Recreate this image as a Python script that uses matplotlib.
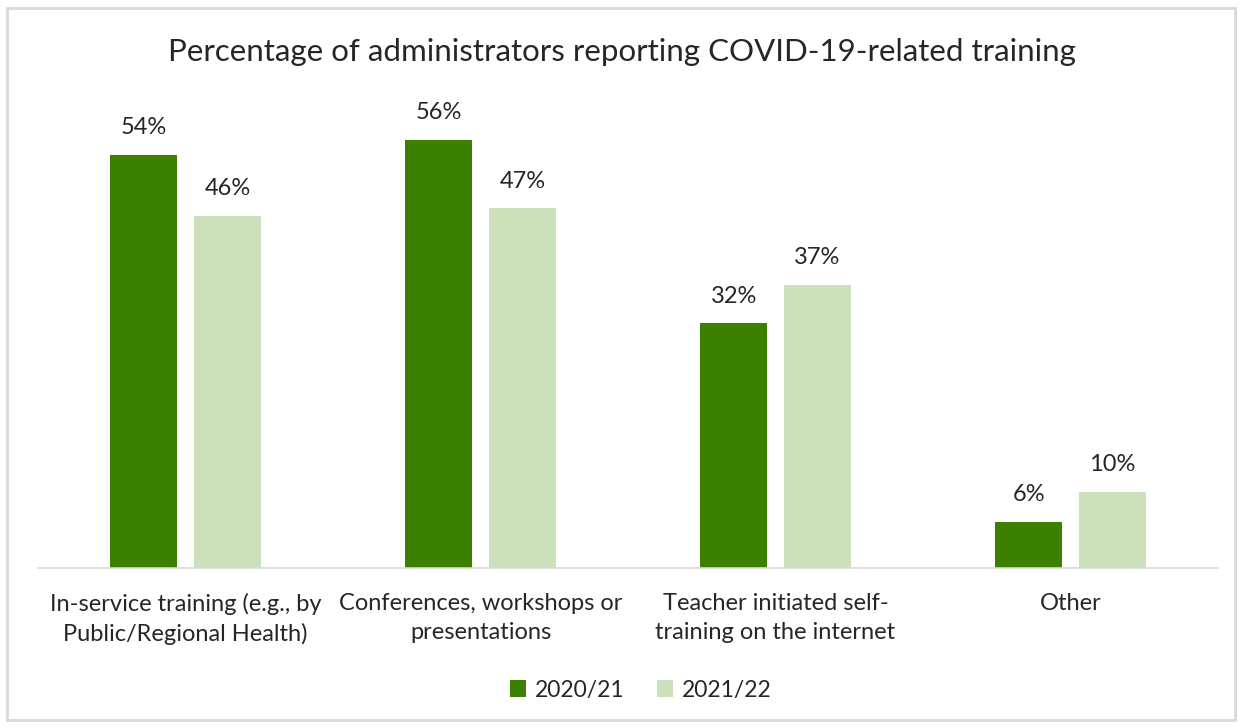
import matplotlib
matplotlib.use("Agg")
import matplotlib.pyplot as plt
import numpy as np
from matplotlib.patches import Rectangle

categories = ["In-service training (e.g., by\nPublic/Regional Health)",
              "Conferences, workshops or\npresentations",
              "Teacher initiated self-\ntraining on the internet",
              "Other"]
years = ["2020/21", "2021/22"]
pct_2020 = [54, 56, 32, 6]
pct_2021 = [46, 47, 37, 10]

DARK = "#3d8000"
LIGHT = "#cde0bc"
GRID = "#d9d9d9"
TEXT = "#262626"

plt.rcParams["font.family"] = ["Lato", "DejaVu Sans"]

W, H = 1243, 727
fig = plt.figure(figsize=(W / 100, H / 100), dpi=100)
fig.patches.append(Rectangle((7 / W, 7 / H), 1228 / W, 712 / H,
                             transform=fig.transFigure, fill=False,
                             edgecolor=GRID, linewidth=2))

ax = fig.add_axes([38 / W, 1 - 568 / H, 1180 / W, 468 / H])

x = np.arange(len(categories))
bw = 0.227
off = 0.142
b1 = ax.bar(x - off, pct_2020, bw, color=DARK, label=years[0])
b2 = ax.bar(x + off, pct_2021, bw, color=LIGHT, label=years[1])

for bars, vals in ((b1, pct_2020), (b2, pct_2021)):
    for b, v in zip(bars, vals):
        ax.annotate(f"{v}%", (b.get_x() + b.get_width() / 2, v),
                    xytext=(0, 12), textcoords="offset points",
                    ha="center", va="bottom", fontsize=17, color=TEXT)

ax.set_xlim(-0.5, len(categories) - 0.5)
ax.set_ylim(0, 468 / 7.65)
ax.set_xticks(x)
ax.set_xticklabels(categories, fontsize=17, color=TEXT, linespacing=1.45)
ax.tick_params(axis="x", length=0, pad=18)
ax.set_yticks([])
for s in ("top", "right", "left"):
    ax.spines[s].set_visible(False)
ax.spines["bottom"].set_color(GRID)
ax.spines["bottom"].set_linewidth(1.2)

fig.text(0.5, 1 - 52 / H, "Percentage of administrators reporting COVID-19-related training",
         ha="center", va="center", fontsize=22.5, color=TEXT)

fig.legend(loc="center", bbox_to_anchor=(641 / W, 1 - 690 / H), ncol=2,
           frameon=False, fontsize=16.5, handlelength=0.7, handleheight=0.7,
           handletextpad=0.4, columnspacing=1.4, labelcolor=TEXT)

fig.savefig("out.png", dpi=100)
